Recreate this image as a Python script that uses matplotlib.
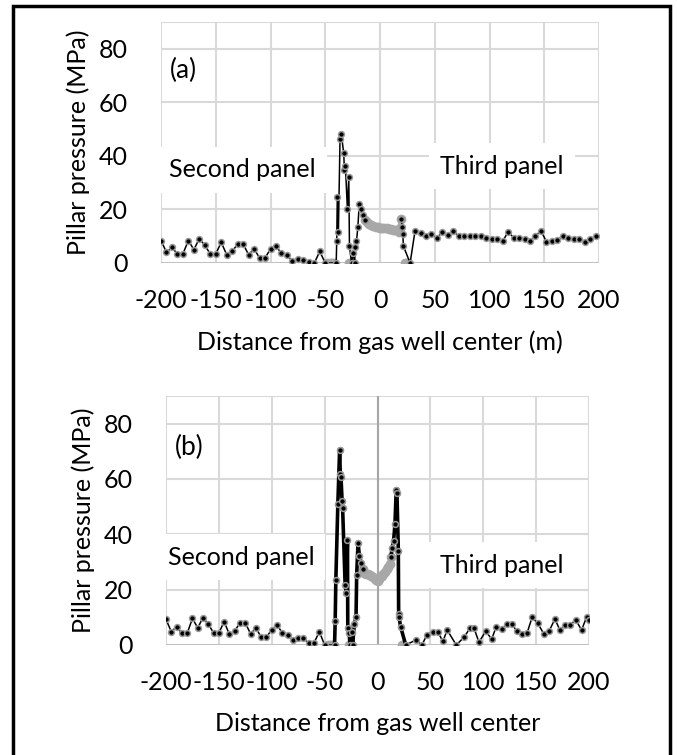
import numpy as np
import matplotlib
matplotlib.use("Agg")
import matplotlib.pyplot as plt
from matplotlib.patches import Rectangle

plt.rcParams['font.family'] = ['Lato', 'DejaVu Sans']

nan = np.nan

# ---- panel (a) ----
xa_black = [-200, -195, -190, -185, -180, -175, -170, -165, -160, -155,
            -150, -145, -140, -135, -130, -125, -120, -115, -110, -105,
            -100, -95, -90, -85, -80, -75, -70, -65, -60, -55, -50,
            -40, -39.5, -39, -38, -36.5, -35.3, -33.1, -32.5, -31.6, -29.8,
            -28.5, -27.9, -26, -24.5, -23.2, -22.5, -21.5, -20.2, -19, -17.2,
            -15.3, -13.8, nan,
            19.5, 20.2, 20.8, 21.4, 27.5,
            32, 37, 42, 47, 52, 57, 62, 67, 72, 77, 82, 87, 92, 97, 102, 107, 112,
            117, 122, 127, 132, 137, 142, 147, 152, 157, 162, 167, 172, 177, 182,
            187, 192, 197]
ya_black = [8.4, 4.0, 5.8, 3.4, 3.4, 8.4, 5.0, 9.1, 6.6, 3.4,
            3.4, 7.7, 3.1, 4.3, 7.1, 7.1, 3.1, 5.3, 1.9, 1.9,
            5.2, 6.2, 3.7, 2.9, 0.6, 1.6, 1.2, 0.4, 0.0, 4.3, 0.0,
            0.0, 8.4, 24.7, 11.6, 46.2, 48.1, 40.9, 34.6, 36.3, 20.3,
            32.1, 6.3, 0.0, 3.8, 0.0, 5.9, 8.1, 13.4, 21.9, 20.3,
            18.1, 15.9, nan,
            16.5, 13.4, 10.9, 6.3, 0.0,
            12.0, 11.1, 10.1, 10.9, 9.4, 11.6, 10.4, 11.9, 9.9, 9.9, 9.9, 10.1,
            9.9, 9.4, 9.1, 9.1, 8.1, 11.6, 9.5, 9.5, 9.1, 8.4, 10.1, 12.1, 7.9,
            8.3, 8.6, 10.1, 9.3, 9.1, 8.9, 7.7, 8.9, 9.9]

xa_gray = [-48, -46, -44, -42, nan, -28, -26.5, -25, nan,
           -13.8, -12, -10, -8, -6, -4, -2, 0, 2, 4, 6, 8, 10, 12, 14, 16,
           17.5, 18.5, 19.5, nan, 22.5, 24, 25.5]
ya_gray = [0, 0, 0, 0, nan, 0, 0, 0, nan,
           15.9, 15.2, 14.6, 14.2, 13.9, 13.6, 13.4, 13.2, 13.1, 13.0, 12.9,
           12.8, 12.6, 12.4, 12.2, 11.8, 11.6, 13.0, 16.5, nan, 0, 0, 0]

# ---- panel (b) ----
xb_black = [-200, -195, -190, -185, -180, -175, -170, -165, -160, -155,
            -150, -145, -140, -135, -130, -125, -120, -115, -110, -105,
            -100, -95, -90, -85, -80, -75, -70, -65, -60, -55, -50,
            -40.6, -40, -39.4, -37.5, -35.8, -35.2, -34.5, -33.5, -33, -30.6,
            -29.4, -28.4, -28.1, -26.8, -26, -24.5, -23.5, -21.9, -20.3, -19.7,
            -18.4, -17.1, -15.5, -13.9, nan,
            12.6, 13.9, 15.2, 16.5, 17.7, 18.4, 19.7, 20.0, 20.3, 22.0, 26.7,
            36.3, 42, 46.8, 52.2, 57, 61.8, 65.9, 74.5, 81.8, 87.3, 91.4, 95.9,
            102.2, 108, 112.1, 117.5, 122.3, 127, 131.9, 136.6, 141.4, 146.2,
            151.6, 157.3, 162.1, 167.8, 172.3, 177.4, 181.9, 187.6, 193, 197.8,
            200]
yb_black = [9.3, 4.8, 6.6, 4.2, 4.2, 9.6, 6.2, 9.9, 7.5, 4.4,
            4.4, 8.4, 3.8, 5.1, 8.0, 8.0, 4.0, 6.2, 2.8, 2.8,
            5.6, 7.2, 4.4, 3.6, 1.8, 2.6, 2.4, 0.6, 0.8, 4.8, 0.0,
            0.0, 8.8, 23.4, 51.0, 70.6, 61.8, 60.6, 52.2, 49.6, 21.7,
            18.7, 37.8, 6.1, 4.2, 0.0, 4.6, 0.0, 7.6, 10.0, 25.3,
            37.0, 32.2, 29.8, 27.4, nan,
            31.8, 35.0, 37.6, 43.6, 56.2, 55.0, 34.0, 11.2, 10.0, 6.4, 0.0,
            1.8, 0.0, 3.7, 4.8, 4.8, 1.3, 5.4, 0.0, 2.8, 6.0, 6.0, 1.0,
            4.9, 2.2, 6.4, 5.8, 7.6, 7.6, 4.9, 4.0, 4.3, 10.0,
            7.8, 4.0, 4.9, 9.4, 5.5, 7.2, 7.3, 9.0, 5.4, 10.2,
            9.0]

xb_gray = [-47, -45, -43, nan, -27, -25, nan,
           -13.9, -12.3, -10.5, -9, -7.4, -5.8, -4.2, -2.6, -1.3, 0, 1.2, 2.3,
           4, 5.5, 7, 8.7, 10.3, 11.9, 12.6, nan, 23, 24.5]
yb_gray = [0, 0, 0, nan, 0, 0, nan,
           27.4, 26.2, 25.8, 25.6, 25.3, 25.0, 24.4, 23.8, 23.4, 23.2, 23.8, 24.4,
           25.0, 25.6, 26.5, 27.4, 28.3, 29.2, 31.8, nan, 0, 0]

xticks = [-200, -150, -100, -50, 0, 50, 100, 150, 200]
xticklabels = ['-200', '-150', '-100', '-50', '0', '50', '100', '150', '200']
yticks = [0, 20, 40, 60, 80]

GRID = '#d9d9d9'
RING = '#9a9a9a'
FS = 18
LFS = 18

fig = plt.figure(figsize=(6.77, 7.55), dpi=100)


def panel(ax, xk, yk, xg, yg, tag, tag_xy, xlabel, thick_center, zero_col, txt):
    ax.set_xlim(-200, 200)
    ax.set_ylim(0, 90)
    ax.set_xticks(xticks)
    ax.set_xticklabels(xticklabels)
    ax.set_yticks(yticks)
    ax.grid(True, color=GRID, lw=1.5, zorder=0)
    ax.set_axisbelow(True)
    for s in ax.spines.values():
        s.set_visible(False)
    ax.axhline(90, color=GRID, lw=1.5, zorder=0)
    ax.axvline(0, color=zero_col, lw=1.5, zorder=1)
    ax.axhline(0, color='#bfbfbf', lw=2, zorder=1)
    ax.tick_params(length=0, labelsize=FS)
    ax.tick_params(axis='x', pad=19)
    ax.tick_params(axis='y', pad=24)
    ax.set_xlabel(xlabel, fontsize=LFS, labelpad=13)
    ax.set_ylabel('Pillar pressure (MPa)', fontsize=LFS, labelpad=6)

    ax.plot(xg, yg, color='#b0b0b0', lw=4, marker='o', ms=6,
            mfc='#a8a8a8', mec='#a8a8a8', zorder=3)
    ax.plot(xk, yk, color='black', lw=1.1, marker='o', ms=4.2,
            mfc='black', mec=RING, mew=1.1, zorder=4)
    if thick_center:
        xk_a = np.array(xk, dtype=float)
        yk_a = np.array(yk, dtype=float)
        m = ((xk_a >= -41) & (xk_a <= 27)) | np.isnan(xk_a)
        ax.plot(xk_a[m], yk_a[m], color='black', lw=2.6, zorder=4)
        ax.plot(xk_a[m], yk_a[m], ls='none', marker='o', ms=4.2,
                mfc='black', mec=RING, mew=1.1, zorder=5)

    ax.text(tag_xy[0], tag_xy[1], tag, transform=ax.transAxes, fontsize=19,
            ha='left', va='center')
    for (tx, ty, s) in txt:
        ax.text(tx, ty, s, transform=ax.transAxes, fontsize=LFS,
                ha='center', va='center', zorder=2,
                bbox=dict(boxstyle='square,pad=0.45', fc='white', ec='none'))


ax1 = fig.add_axes([161 / 677, 1 - 263 / 755, 438 / 677, 241 / 755])
panel(ax1, xa_black, ya_black, xa_gray, ya_gray, '(a)', (0.02, 0.80),
      'Distance from gas well center (m)', False, GRID,
      [(0.185, 0.386, 'Second panel'), (0.779, 0.402, 'Third panel')])

ax2 = fig.add_axes([166 / 677, 1 - 645 / 755, 423 / 677, 249 / 755])
panel(ax2, xb_black, yb_black, xb_gray, yb_gray, '(b)', (0.021, 0.795),
      'Distance from gas well center', True, '#a6a6a6',
      [(0.177, 0.353, 'Second panel'), (0.793, 0.321, 'Third panel')])

# outer frame (bottom edge is cut off in the reference)
fig.add_artist(Rectangle((13 / 677, -0.05), (670 - 13) / 677, (1 - 6 / 755) + 0.05,
                         transform=fig.transFigure, fill=False, ec='black', lw=2.5))

fig.savefig('out.png', dpi=100)
